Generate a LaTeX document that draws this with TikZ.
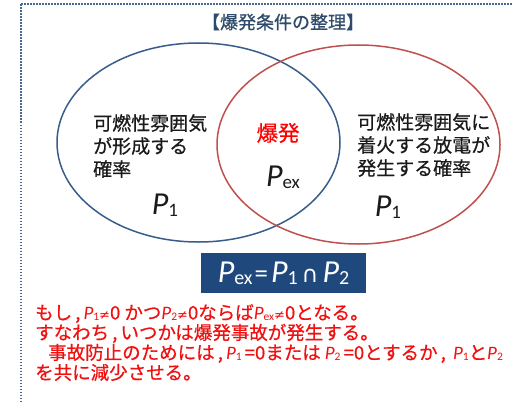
\documentclass[tikz,border=0pt]{standalone}
\usepackage{fontspec}
\setmainfont{Noto Sans CJK JP}[FakeBold=0.6]
\newfontfamily\latf{Carlito}
\newfontfamily\symf{DejaVu Sans}
\usetikzlibrary{shapes.geometric}
\definecolor{vblue}{HTML}{385D8A}
\definecolor{vred}{HTML}{C0504D}
\definecolor{frameblue}{HTML}{4A6890}
\definecolor{boxblue}{HTML}{1F497D}
\definecolor{titlecol}{HTML}{2F4A6A}
\definecolor{txt}{HTML}{1A1A1A}
\definecolor{warnred}{HTML}{F01010}
\newcommand{\Pv}[3]{{\latf\fontsize{#2}{#2}\selectfont\itshape P}\raisebox{-0.3ex}{\latf\fontsize{#3}{#3}\selectfont #1}}
\newcommand{\Pn}[1]{{\latf\fontsize{19}{19}\selectfont\itshape P}\raisebox{-0.1ex}{\latf\fontsize{11.5}{11.5}\selectfont #1}}
\newcommand{\neqs}{{\symf\fontsize{13}{13}\selectfont ≠}}
\tikzset{
  frame/.style={draw=frameblue, line width=2pt, dash pattern=on 1.6pt off 1.4pt},
  setA/.style={ellipse, draw=vblue, line width=1.5pt, minimum width=283pt, minimum height=199pt, inner sep=0pt},
  setB/.style={ellipse, draw=vred, line width=1.5pt, minimum width=283pt, minimum height=199pt, inner sep=0pt},
  desc/.style={anchor=west, align=left, inner sep=0pt, text=txt, font=\fontsize{19}{23}\selectfont},
  prob/.style={inner sep=0pt, text=txt},
  note/.style={anchor=north west, align=left, inner sep=0pt, text=warnred, font=\fontsize{18.5}{20}\selectfont},
  formula/.style={fill=boxblue, text=white, minimum width=165pt, minimum height=40pt, inner sep=0pt}
}
\begin{document}
\begin{tikzpicture}[x=1pt,y=-1pt]
\useasboundingbox (0,0) rectangle (513,401);
\clip (0,0) rectangle (513,401);
\fill[white] (0,0) rectangle (513,401);
\draw[frame] (20.5,4.5) rectangle (560,450);
\node[text=titlecol, inner sep=0pt, font=\fontsize{18}{19}\selectfont] (title) at (283,22) {【爆発条件の整理】};
\node[setA] (A) at (198.5,142.5) {};
\node[setB] (B) at (358.5,144.5) {};
\node[desc] (ta) at (93,146) {可燃性雰囲気\\が形成する\\確率};
\node[desc] (tb) at (357,145) {可燃性雰囲気に\\着火する放電が\\発生する確率};
\node[inner sep=0pt, text=red, font=\fontsize{21.5}{24}\selectfont] (ex) at (278,133) {爆発};
\node[prob] (pex) at (283,177) {\Pv{ex}{32}{19}};
\node[prob] (p1a) at (165,205) {\Pv{1}{32}{19}};
\node[prob] (p1b) at (388,207) {\Pv{1}{32}{19}};
\node[formula] (f) at (283.5,273) {\Pv{ex}{32}{20}\kern2pt{\latf\fontsize{27}{27}\selectfont =}\kern3pt\Pv{1}{32}{20}\kern4pt{\symf\fontsize{23}{23}\selectfont ∩}\kern4pt\Pv{2}{32}{20}};
\node[note] (notes) at (35,304) {もし\,,\,\Pn{1}\neqs0 かつ\Pn{2}\neqs0ならば\Pn{ex}\neqs0となる。\\
すなわち\,,\,いつかは爆発事故が発生する。\\
\hspace*{13pt}事故防止のためには\,,\,\Pn{1}\,=0または \Pn{2}\,=0とするか\,,\, \Pn{1}と\Pn{2}\\
を共に減少させる。};
\end{tikzpicture}
\end{document}
